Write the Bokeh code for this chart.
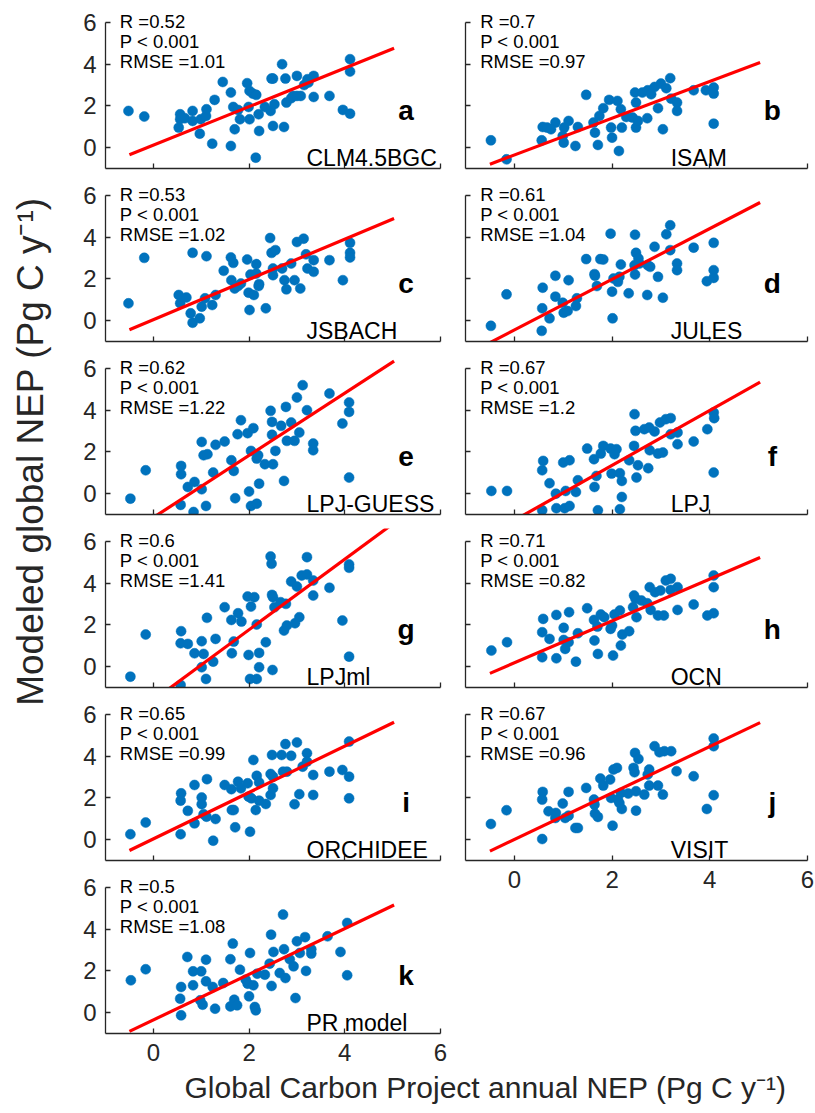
import math

from bokeh.embed import file_html
from bokeh.layouts import column, row
from bokeh.models import FixedTicker, Label, Range1d
from bokeh.plotting import figure
from bokeh.resources import INLINE

# ---------------------------------------------------------------------------
# Data: Global Carbon Project annual NEP (x) against each model's NEP (y)
# ---------------------------------------------------------------------------
clm_x = [-0.52, -0.19, 0.56, 0.56, 0.53, 0.66, 0.82, 0.82, 0.97, 0.99,
         1.10, 1.11, 1.23, 1.28, 1.45, 1.62, 1.67, 1.70, 1.77, 1.81,
         1.62, 1.96, 2.01, 1.99, 2.01, 2.08, 2.15, 2.14, 2.20, 2.21,
         2.33, 2.45, 2.47, 2.50, 2.50, 2.53, 2.69, 2.76, 2.78, 2.73,
         2.88, 2.92, 3.00, 3.00, 3.08, 3.15, 3.22, 3.24, 3.35, 3.35,
         3.68, 3.96, 4.11, 4.11, 4.11]
clm_y = [1.76, 1.49, 1.60, 1.36, 0.96, 1.41, 1.76, 1.28, 0.67, 1.36,
         1.52, 1.84, 0.19, 2.29, 3.15, 2.64, 1.95, 0.88, 1.81, 1.36,
         0.08, 3.09, 2.72, 1.95, 1.36, 2.59, 2.53, -0.48, 1.60, 0.80,
         1.95, 1.76, 3.31, 3.31, 1.04, 2.08, 4.00, 3.31, 2.16, 0.99,
         2.37, 2.48, 3.44, 2.48, 2.48, 3.00, 3.28, 3.12, 3.44, 2.43,
         2.48, 1.81, 1.63, 4.24, 3.65]

isam_x = [-0.48, -0.16, 0.58, 0.56, 0.67, 0.84, 0.75, 0.99, 1.01, 1.02,
          1.11, 1.25, 1.30, 1.47, 1.62, 1.65, 1.71, 1.74, 1.82, 1.94,
          1.98, 2.00, 2.11, 2.14, 2.18, 2.20, 2.29, 2.42, 2.47, 2.49,
          2.49, 2.53, 2.72, 2.62, 2.73, 2.80, 2.87, 2.94, 3.00, 3.04,
          3.11, 3.19, 3.21, 3.33, 3.33, 3.67, 3.92, 4.08, 4.08, 4.08]
isam_y = [0.35, -0.56, 0.99, 0.35, 0.96, 1.20, 0.88, 0.56, 0.24, 0.96,
          1.28, 0.08, 0.99, 2.53, 1.20, 0.72, 0.13, 1.52, 1.89, 2.29,
          0.96, 0.48, 2.24, -0.16, 1.84, 0.96, 1.47, 1.44, 2.64, 2.16,
          0.96, 1.28, 1.41, 2.64, 2.75, 2.56, 2.91, 1.89, 3.07, 0.88,
          2.85, 3.33, 2.35, 2.16, 1.76, 2.75, 2.75, 2.88, 2.59, 1.15]

jsbach_x = [-0.52, -0.19, 0.53, 0.56, 0.69, 0.82, 0.82, 0.78, 0.97, 1.01,
            1.08, 1.11, 1.23, 1.30, 1.47, 1.62, 1.67, 1.63, 1.70, 1.77,
            1.83, 1.96, 2.03, 1.99, 2.01, 2.10, 2.15, 2.15, 2.21, 2.20,
            2.35, 2.44, 2.47, 2.55, 2.50, 2.50, 2.69, 2.74, 2.78, 2.88,
            2.95, 3.00, 3.07, 3.14, 3.19, 3.22, 3.35, 3.35, 3.68, 3.96,
            4.11, 4.11, 4.11]
jsbach_y = [0.83, 3.01, 1.23, 0.83, 1.11, 3.25, -0.10, 0.35, 0.11, 0.67,
            1.07, 3.09, 0.75, 1.23, 2.39, 3.03, 2.77, 1.94, 1.54, 1.66,
            1.78, 2.93, 2.21, 1.34, 0.51, 1.23, 2.71, 2.26, 1.75, 1.66,
            0.59, 3.96, 3.25, 3.38, 2.50, 2.18, 2.50, 1.94, 1.50, 2.74,
            1.94, 3.77, 1.54, 3.93, 3.18, 2.50, 2.90, 2.34, 2.90, 1.94,
            3.73, 3.25, 3.03]

jules_x = [-0.48, -0.16, 0.58, 0.57, 0.56, 0.72, 0.84, 0.84, 0.99, 1.01,
           1.09, 1.11, 1.26, 1.28, 1.47, 1.64, 1.65, 1.69, 1.76, 1.82,
           1.97, 2.00, 2.01, 2.03, 2.12, 2.15, 2.18, 2.34, 2.46, 2.47,
           2.47, 2.49, 2.54, 2.56, 2.72, 2.73, 2.78, 2.87, 2.94, 3.04,
           3.11, 3.19, 3.19, 3.33, 3.33, 3.67, 3.94, 4.08, 4.08, 4.08]
jules_y = [-0.25, 1.26, 1.58, 0.59, -0.49, 0.11, 2.15, 1.15, 0.86, 0.38,
           0.46, 1.94, 0.70, 1.07, 2.95, 2.23, 2.15, 1.66, 2.95, 2.93,
           4.17, 1.39, 0.11, 2.02, 1.86, 2.10, 2.69, 1.31, 2.66, 4.12,
           2.21, 3.25, 2.98, 2.74, 1.23, 2.66, 2.58, 3.54, 2.10, 1.10,
           4.14, 4.57, 3.38, 2.74, 2.42, 3.50, 1.89, 3.73, 2.42, 2.05]

guess_x = [-0.48, -0.16, 0.58, 0.58, 0.57, 0.72, 0.86, 0.84, 1.01, 1.01,
           1.05, 1.13, 1.10, 1.25, 1.30, 1.49, 1.63, 1.68, 1.71, 1.76,
           1.83, 1.97, 2.00, 2.09, 2.04, 2.04, 2.16, 2.16, 2.21, 2.19,
           2.33, 2.45, 2.48, 2.48, 2.50, 2.55, 2.67, 2.73, 2.77, 2.79,
           2.88, 2.95, 3.00, 3.05, 3.12, 3.21, 3.34, 3.34, 3.68, 3.95,
           4.09, 4.09, 4.09]
guess_y = [-0.24, 1.12, 1.33, 0.93, -0.54, 0.32, 0.56, -0.88, 2.48, 0.21,
           1.84, 1.89, -0.59, 1.01, 2.34, 2.50, 1.60, 1.09, -0.22, 2.85,
           3.52, 2.90, 0.10, 3.14, 2.05, -0.59, -0.48, 1.68, 0.48, 1.84,
           1.41, 3.97, 3.44, 2.82, 1.41, 2.05, 3.25, 0.61, 4.16, 2.53,
           3.41, 2.53, 4.61, 2.93, 5.20, 4.00, 2.40, 2.08, 4.80, 3.36,
           4.37, 3.92, 0.77]

lpj_x = [-0.47, -0.15, 0.59, 0.57, 0.57, 0.72, 0.85, 0.86, 1.00, 1.13,
         1.05, 1.03, 1.13, 1.26, 1.30, 1.49, 1.63, 1.64, 1.68, 1.71,
         1.77, 1.82, 1.97, 1.99, 2.05, 2.09, 2.16, 2.16, 2.20, 2.20,
         2.35, 2.45, 2.46, 2.48, 2.50, 2.53, 2.66, 2.74, 2.76, 2.77,
         2.87, 2.94, 2.98, 3.04, 3.10, 3.20, 3.20, 3.34, 3.34, 3.67,
         3.95, 4.08, 4.09, 4.08]
lpj_y = [0.13, 0.13, 1.57, 1.12, -0.80, 0.50, 0.00, -0.70, 1.49, 1.60,
         0.13, -0.70, -0.59, 0.08, 0.64, 2.16, 1.65, 0.32, 0.85, -0.80,
         1.92, 2.29, 2.16, 0.96, 1.89, 2.13, 0.98, -0.75, 0.61, -0.16,
         1.60, 2.29, 3.81, 3.01, 0.77, 1.36, 3.09, 1.22, 3.17, 2.08,
         2.98, 1.92, 3.41, 1.97, 3.57, 3.62, 2.85, 2.93, 2.37, 2.50,
         3.09, 3.89, 3.62, 1.01]

lpjml_x = [-0.48, -0.16, 0.58, 0.57, 0.57, 0.72, 0.86, 1.01, 1.01, 1.05,
           1.10, 1.12, 1.25, 1.30, 1.49, 1.63, 1.64, 1.68, 1.77, 1.84,
           1.97, 1.99, 2.04, 2.11, 2.16, 2.02, 2.16, 2.21, 2.21, 2.35,
           2.45, 2.47, 2.48, 2.50, 2.49, 2.53, 2.66, 2.73, 2.77, 2.79,
           2.88, 2.96, 3.00, 3.05, 3.10, 3.21, 3.21, 3.34, 3.34, 3.68,
           3.95, 4.09, 4.09, 4.09]
lpjml_y = [-0.48, 1.54, 1.70, 1.12, -0.88, 1.09, 0.64, 1.22, -0.03, 0.61,
           -0.59, 2.34, 0.24, 1.33, 2.85, 2.24, 0.64, 1.20, 2.56, 2.16,
           3.36, 0.56, 2.88, 3.33, 2.02, -0.59, -0.59, -0.03, 0.66, 1.17,
           5.28, 4.93, 3.44, 3.33, -0.16, 2.85, 3.09, 1.73, 3.01, 1.97,
           4.08, 2.08, 3.84, 2.37, 4.37, 5.25, 4.42, 4.13, 3.41, 3.78,
           2.21, 4.90, 4.74, 0.48]

ocn_x = [-0.47, -0.15, 0.59, 0.57, 0.57, 0.72, 0.86, 0.86, 1.01, 1.01,
         1.04, 1.11, 1.12, 1.26, 1.30, 1.49, 1.63, 1.64, 1.70, 1.71,
         1.77, 1.84, 1.97, 2.00, 2.02, 2.05, 2.16, 2.18, 2.21, 2.35,
         2.45, 2.48, 2.43, 2.50, 2.60, 2.72, 2.77, 2.79, 2.88, 2.94,
         2.99, 3.06, 3.10, 3.20, 3.20, 3.34, 3.34, 3.67, 3.95, 4.08,
         4.08, 4.08]
ocn_y = [0.77, 1.17, 2.29, 1.65, 0.45, 1.33, 2.48, 0.40, 1.86, 1.28,
         0.85, 1.17, 2.61, 0.24, 1.60, 2.80, 2.24, 1.25, 1.92, 0.61,
         2.50, 2.37, 1.81, 1.97, 0.53, 2.50, 2.69, 1.01, 1.54, 1.70,
         3.41, 3.25, 2.85, 2.37, 3.17, 3.04, 3.81, 2.72, 3.57, 2.45,
         3.65, 2.45, 4.13, 4.21, 3.68, 3.81, 2.72, 2.98, 2.45, 4.37,
         3.81, 2.56]

orchidee_x = [-0.48, -0.16, 0.58, 0.57, 0.57, 0.72, 0.86, 0.86, 1.01, 1.01,
              1.05, 1.11, 1.12, 1.25, 1.30, 1.49, 1.63, 1.64, 1.68, 1.71,
              1.77, 1.83, 1.97, 1.99, 2.02, 2.05, 2.09, 2.16, 2.14, 2.21,
              2.21, 2.35, 2.45, 2.45, 2.48, 2.50, 2.50, 2.68, 2.71, 2.76,
              2.79, 2.88, 2.95, 3.00, 3.05, 3.12, 3.21, 3.21, 3.34, 3.34,
              3.68, 3.95, 4.09, 4.09, 4.09]
orchidee_y = [0.26, 0.82, 2.22, 1.87, 0.26, 1.38, 2.62, 0.78, 2.02, 1.70,
              1.22, 1.10, 2.90, -0.05, 0.99, 2.62, 2.42, 1.42, 1.42, 0.59,
              2.78, 2.46, 2.70, 2.06, 0.38, 1.98, 3.82, 3.06, 1.42, 2.74,
              1.87, 1.71, 2.14, 3.15, 4.06, 2.46, 3.02, 4.06, 3.26, 4.58,
              3.26, 4.02, 1.70, 4.66, 2.18, 3.50, 4.14, 3.74, 3.10, 2.14,
              3.26, 3.34, 4.70, 3.02, 1.98]

visit_x = [-0.48, -0.16, 0.57, 0.58, 0.57, 0.70, 0.84, 0.85, 0.99, 1.04,
           1.11, 1.11, 1.25, 1.30, 1.47, 1.63, 1.64, 1.65, 1.71, 1.76,
           1.82, 1.96, 1.98, 2.01, 2.03, 2.10, 2.12, 2.15, 2.18, 2.20,
           2.33, 2.44, 2.46, 2.47, 2.49, 2.49, 2.54, 2.66, 2.73, 2.76,
           2.76, 2.87, 2.94, 2.97, 3.04, 3.07, 3.21, 3.32, 3.67, 3.94,
           4.08, 4.08, 4.08]
visit_y = [0.75, 1.41, 0.03, 2.29, 1.92, 1.36, 1.04, 1.28, 1.73, 1.04,
           2.29, 1.15, 0.56, 0.56, 2.48, 1.92, 1.68, 1.25, 1.09, 2.93,
           2.59, 2.88, 2.00, 0.67, 3.36, 3.44, 1.92, 1.76, 2.24, 1.47,
           2.21, 3.44, 3.23, 4.16, 2.32, 1.39, 3.87, 2.16, 3.12, 3.36,
           2.59, 4.48, 2.59, 4.19, 2.16, 4.24, 4.24, 3.28, 3.04, 1.47,
           4.85, 4.48, 2.13]

pr_x = [-0.47, -0.16, 0.58, 0.56, 0.58, 0.71, 0.83, 1.00, 0.83, 0.98,
        1.03, 1.10, 1.10, 1.24, 1.29, 1.46, 1.66, 1.61, 1.61, 1.69,
        1.75, 1.81, 1.93, 2.02, 1.97, 2.00, 2.09, 2.12, 2.14, 2.17,
        2.33, 2.43, 2.46, 2.51, 2.47, 2.64, 2.71, 2.73, 2.76, 2.85,
        2.93, 2.97, 3.00, 3.06, 3.17, 3.19, 3.30, 3.30, 3.64, 3.91,
        4.05, 4.05]
pr_y = [1.55, 2.08, 1.23, 0.67, -0.13, 2.67, 1.98, 1.98, 1.31, 0.59,
        0.38, 2.54, 1.50, 1.23, 0.19, 1.42, 3.31, 2.56, 0.30, 0.62,
        0.35, 2.06, 1.58, 2.86, 1.39, 0.78, 1.31, 0.27, 0.11, 1.87,
        1.82, 2.35, 3.74, 2.91, 1.28, 1.90, 4.70, 3.04, 1.66, 2.56,
        2.22, 0.70, 3.42, 2.86, 3.62, 2.00, 3.04, 2.83, 3.66, 2.91,
        4.30, 1.79]

# Panel metadata, in reading order a..k
models = ["CLM4.5BGC", "ISAM", "JSBACH", "JULES", "LPJ-GUESS", "LPJ",
          "LPJml", "OCN", "ORCHIDEE", "VISIT", "PR model"]
letters = ["a", "b", "c", "d", "e", "f", "g", "h", "i", "j", "k"]
r_text = ["0.52", "0.7", "0.53", "0.61", "0.62", "0.67",
          "0.6", "0.71", "0.65", "0.67", "0.5"]
rmse_text = ["1.01", "0.97", "1.02", "1.04", "1.22", "1.2",
             "1.41", "0.82", "0.99", "0.96", "1.08"]
fit_slope = [0.924, 0.882, 0.964, 1.215, 1.49, 1.316,
             1.69, 1.004, 1.112, 1.114, 1.095]
fit_intercept = [0.117, -0.35, 0.05, -0.447, -1.144, -1.277,
                 -1.61, 0.18, 0.037, 0.008, -0.35]
fit_x = [-0.5, 5.03]
series_x = [clm_x, isam_x, jsbach_x, jules_x, guess_x, lpj_x,
            lpjml_x, ocn_x, orchidee_x, visit_x, pr_x]
series_y = [clm_y, isam_y, jsbach_y, jules_y, guess_y, lpj_y,
            lpjml_y, ocn_y, orchidee_y, visit_y, pr_y]
axis_ticks = [0, 2, 4, 6]

# ---------------------------------------------------------------------------
# Styling and geometry
# ---------------------------------------------------------------------------
FONT = "Liberation Sans"
AXIS_COLOR = "#262626"
DOT_COLOR = "#0072BD"
FIT_COLOR = "#FF0000"

YLAB_W = 52          # width of the strip carrying the shared y title
ROW_H = 173          # vertical pitch of one panel row
AXES_H = 146         # pixel height of the -1..6 axis span
HEADROOM = 13        # extra frame space above y = 6 for the statistics text
PX_PER_UNIT = AXES_H / 7.0
Y_TOP = 6 + HEADROOM / PX_PER_UNIT
TOP_BORDER = 22 - HEADROOM
FRAME_H = AXES_H + HEADROOM
K_BOTTOM = 38
COL_H = 5 * ROW_H + TOP_BORDER + FRAME_H + K_BOTTOM
J_BOTTOM = COL_H - 4 * ROW_H - TOP_BORDER - FRAME_H


def style_axis(ax, show_labels, standoff):
    ax.ticker = FixedTicker(ticks=axis_ticks)
    ax.bounds = (-1, 6)
    ax.minor_tick_line_color = None
    ax.major_tick_in = 5
    ax.major_tick_out = 0
    ax.axis_line_color = AXIS_COLOR
    ax.axis_line_width = 1.3
    ax.major_tick_line_color = AXIS_COLOR
    ax.major_tick_line_width = 1.3
    ax.major_label_text_font = FONT
    if show_labels:
        ax.major_label_text_color = AXIS_COLOR
        ax.major_label_text_font_size = "24px"
        ax.major_label_standoff = standoff
    else:
        ax.major_label_text_color = None
        ax.major_label_text_font_size = "1px"
        ax.major_label_standoff = 0


def make_panel(i, left_col, show_x_labels, bottom_border):
    p = figure(
        frame_width=335 if left_col else 342,
        frame_height=FRAME_H,
        x_range=Range1d(-1, 6),
        y_range=Range1d(-1, Y_TOP),
        min_border_left=(105 - YLAB_W) if left_col else 15,
        min_border_right=10 if left_col else 8,
        min_border_top=TOP_BORDER,
        min_border_bottom=bottom_border,
        output_backend="svg",
        toolbar_location=None,
    )
    p.outline_line_color = None
    p.grid.visible = False
    style_axis(p.xaxis[0], show_x_labels, 10)
    style_axis(p.yaxis[0], left_col, 9)

    p.scatter(series_x[i], series_y[i], size=10, fill_color=DOT_COLOR,
              line_color=DOT_COLOR, line_width=0.5)
    fit_y = [fit_intercept[i] + fit_slope[i] * xv for xv in fit_x]
    p.line(fit_x, fit_y, line_color=FIT_COLOR, line_width=3.2)

    stats = ["R =" + r_text[i], "P < 0.001", "RMSE =" + rmse_text[i]]
    for txt, yv in zip(stats, [6.05, 5.09, 4.13]):
        p.add_layout(Label(x=-0.7, y=yv, text=txt, text_font=FONT,
                           text_font_size="18.5px", text_color="black",
                           text_baseline="middle"))
    p.add_layout(Label(x=5.28, y=1.77, text=letters[i], text_font=FONT,
                       text_font_size="28px", text_font_style="bold",
                       text_color="black", text_align="center",
                       text_baseline="middle"))
    p.add_layout(Label(x=3.2, y=-0.52, text=models[i], text_font=FONT,
                       text_font_size="23px", text_color="black",
                       text_baseline="middle"))
    return p


left_panels = []
right_panels = []
for i in range(11):
    if i % 2 == 0:
        last = (i == 10)
        left_panels.append(make_panel(i, True, last, K_BOTTOM if last else 5))
    else:
        last = (i == 9)
        right_panels.append(make_panel(i, False, last, J_BOTTOM if last else 5))


def text_strip(width, height):
    f = figure(width=width, height=height,
               x_range=Range1d(0, width), y_range=Range1d(0, height),
               min_border=0, output_backend="svg", toolbar_location=None)
    f.xaxis.visible = False
    f.yaxis.visible = False
    f.grid.visible = False
    f.outline_line_color = None
    return f


ylab = text_strip(YLAB_W, COL_H)
ylab.add_layout(Label(x=30, y=COL_H - 451,
                      text="Modeled global NEP (Pg C y\u207b\u00b9)",
                      angle=math.pi / 2, text_align="center",
                      text_baseline="middle", text_font=FONT,
                      text_font_size="37px", text_color=AXIS_COLOR))

XLAB_H = 1113 - COL_H
xlab = text_strip(815, XLAB_H)
xlab.add_layout(Label(x=485, y=XLAB_H - (1087 - COL_H),
                      text="Global Carbon Project annual NEP (Pg C y\u207b\u00b9)",
                      text_align="center", text_baseline="middle",
                      text_font=FONT, text_font_size="30px",
                      text_color=AXIS_COLOR))

layout = column(row(ylab, column(*left_panels), column(*right_panels)), xlab)

open("out.html", "w").write(file_html(layout, INLINE))
